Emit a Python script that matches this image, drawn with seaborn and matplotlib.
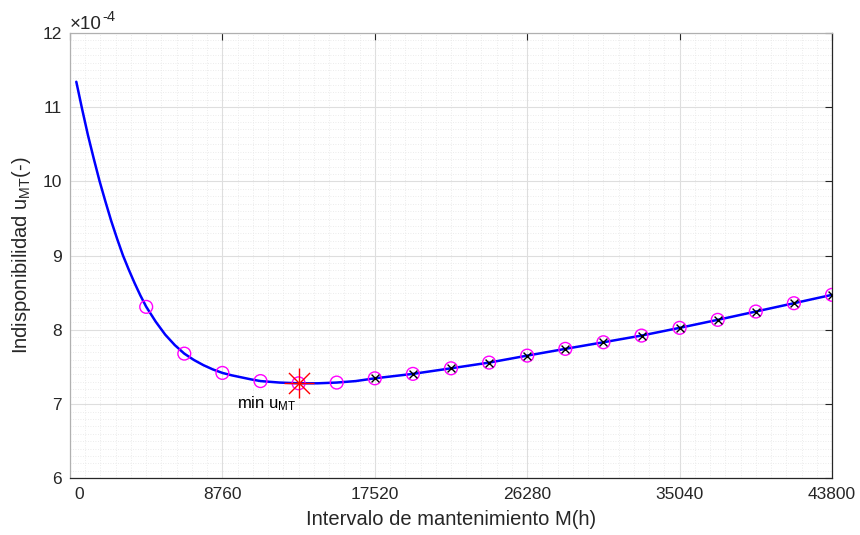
import numpy as np
import pandas as pd
import matplotlib
matplotlib.use("Agg")
import matplotlib.pyplot as plt
import matplotlib.transforms as mtransforms
import seaborn as sns

# ---- data (values in units of 1e-4) ----
curve_h = [362, 700, 1030, 1370, 1700, 2040, 2370, 2710, 3046, 3380, 3710,
           4040, 4380, 4928, 5475, 6023, 6570, 7118, 7665, 8213, 8760, 9307,
           9855, 10402, 10950, 12045, 13140, 14235, 15330, 16425, 17520,
           19710, 21900, 24090, 26280, 28470, 30660, 32850, 35040, 37230,
           39420, 41610, 43800]
curve_u = [11.343, 10.971, 10.625, 10.303, 10.004, 9.726, 9.467, 9.226, 9.002,
           8.810, 8.632, 8.466, 8.312, 8.110, 7.935, 7.795, 7.680, 7.595,
           7.525, 7.467, 7.420, 7.387, 7.360, 7.333, 7.310, 7.290, 7.280,
           7.280, 7.290, 7.310, 7.347, 7.407, 7.482, 7.559, 7.653, 7.744,
           7.833, 7.923, 8.027, 8.135, 8.247, 8.359, 8.472]

circle_h = [4380, 6570, 8760, 10950, 13140, 15330, 17520, 19710, 21900, 24090,
            26280, 28470, 30660, 32850, 35040, 37230, 39420, 41610, 43800]
circle_u = [8.31, 7.68, 7.42, 7.31, 7.28, 7.29, 7.347, 7.407, 7.482, 7.559,
            7.653, 7.744, 7.833, 7.923, 8.027, 8.135, 8.247, 8.359, 8.472]

cross_h = [17520, 19710, 21900, 24090, 26280, 28470, 30660, 32850, 35040,
           37230, 39420, 41610, 43800]
cross_u = [7.347, 7.407, 7.482, 7.559, 7.653, 7.744, 7.833, 7.923, 8.027,
           8.135, 8.247, 8.359, 8.472]

min_h = [13140]
min_u = [7.28]

x_ticks = [0, 8760, 17520, 26280, 35040, 43800]
y_ticks = [6, 7, 8, 9, 10, 11, 12]

# ---- style ----
sns.set_style("white")
plt.rcParams['font.family'] = ['Liberation Sans', 'DejaVu Sans']
plt.rcParams['mathtext.default'] = 'regular'

fig = plt.figure(figsize=(8.6, 5.35), dpi=100)
ax = fig.add_axes([70/860, 1 - 478.3/535, (832-70)/860, (478.3-33)/535])

curve = pd.DataFrame({"h": curve_h, "u": curve_u})
sns.lineplot(data=curve, x="h", y="u", ax=ax, color="#0000ff", lw=1.8,
             sort=False, estimator=None, zorder=3)

sns.scatterplot(x=circle_h, y=circle_u, ax=ax, marker="o", s=85,
                facecolors="none", edgecolor="#ff00ff", linewidth=1.0, zorder=4)
sns.scatterplot(x=cross_h, y=cross_u, ax=ax, marker="x", s=32,
                color="black", linewidth=1.0, zorder=5)
sns.scatterplot(x=min_h, y=min_u, ax=ax, marker="+", s=460,
                color="#ff0000", linewidth=1.0, zorder=6)
sns.scatterplot(x=min_h, y=min_u, ax=ax, marker="x", s=230,
                color="#ff0000", linewidth=1.0, zorder=6)

ax.set_xlim(0, 43800)
ax.set_ylim(6, 12)
ax.set_xticks(x_ticks)
ax.set_xticklabels([str(t) for t in x_ticks])
ax.set_yticks(y_ticks)
ax.set_yticklabels([str(t) for t in y_ticks])
ax.set_xticks(np.arange(0, 43800 + 1, 876), minor=True)
ax.set_yticks(np.arange(6, 12.001, 0.1), minor=True)

ax.grid(True, which="major", color="#dedede", lw=0.8, zorder=0)
ax.grid(True, which="minor", color="#e6e6e6", lw=0.6, ls=(0, (1, 2)), zorder=0)
ax.set_axisbelow(True)

ax.tick_params(which="major", direction="in", length=5, width=0.8,
               top=True, right=True, labelsize=12.5, colors="#262626", pad=6)
ax.tick_params(which="minor", length=0)
for s in ["bottom", "right"]:
    ax.spines[s].set_color("#262626")
    ax.spines[s].set_linewidth(0.9)
for s in ["left", "top"]:
    ax.spines[s].set_color("#b0b0b0")
    ax.spines[s].set_linewidth(0.9)

# shift the "0" label to the right as in the reference
lbl0 = ax.get_xticklabels()[0]
lbl0.set_transform(lbl0.get_transform() +
                   mtransforms.ScaledTranslation(9/100, 0, fig.dpi_scale_trans))

ax.set_xlabel("Intervalo de mantenimiento M(h)", fontsize=14.5, color="#262626", labelpad=6)
ax.set_ylabel("Indisponibilidad u$_{MT}$(-)", fontsize=14.5, color="#262626", labelpad=7)

ax.text(9580, 6.94, "min u$_{MT}$", fontsize=12, color="black", ha="left", va="baseline")

fig.text(70/860, 1 - 29/535, "\u00d710", fontsize=13.5, color="#262626",
         ha="left", va="baseline")
fig.text(102/860, 1 - 21/535, "-4", fontsize=10.5, color="#262626",
         ha="left", va="baseline")

fig.savefig("out.png", dpi=100)
